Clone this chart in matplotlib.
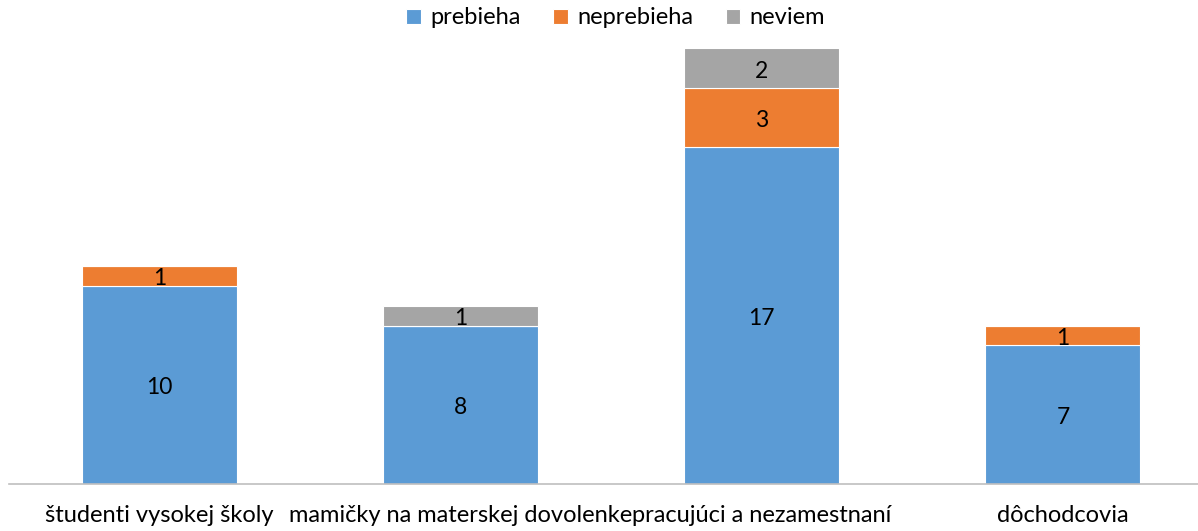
import matplotlib
matplotlib.use("Agg")
import matplotlib.pyplot as plt
import numpy as np

categories = ["študenti vysokej školy", "mamičky na materskej dovolenke",
              "pracujúci a nezamestnaní", "dôchodcovia"]
series_names = ["prebieha", "neprebieha", "neviem"]
prebieha = [10, 8, 17, 7]
neprebieha = [1, 0, 3, 1]
neviem = [0, 1, 2, 0]
colors = ["#5B9BD5", "#ED7D31", "#A5A5A5"]

plt.rcParams['font.family'] = ['Lato', 'DejaVu Sans']

W, H = 1198, 531
fig = plt.figure(figsize=(W / 100, H / 100), dpi=100)
left_px, right_px = 9, 1213.5
top_px, bottom_px = 48.5, 484
ax = fig.add_axes([left_px / W, 1 - bottom_px / H,
                   (right_px - left_px) / W, (bottom_px - top_px) / H])

x = np.arange(len(categories))
bottom = np.zeros(len(categories))
for name, vals, col in zip(series_names, [prebieha, neprebieha, neviem], colors):
    vals = np.array(vals, dtype=float)
    bars = ax.bar(x, vals, width=0.515, bottom=bottom, color=col, label=name,
                  edgecolor="white", linewidth=0.8, zorder=2)
    labels = [str(int(v)) if v > 0 else "" for v in vals]
    ax.bar_label(bars, labels=labels, label_type="center", fontsize=16.5,
                 color="#000000", padding=-2)
    bottom += vals

ax.set_xlim(-0.5, len(categories) - 0.5)
ax.set_ylim(0, 22)
ax.set_yticks([])
ax.set_xticks(x)
ax.set_xticklabels(categories, fontsize=17, color="#000000")
ax.tick_params(axis="x", length=0, pad=15)
for s in ["top", "right", "left"]:
    ax.spines[s].set_visible(False)
ax.spines["bottom"].set_color("#BFBFBF")
ax.spines["bottom"].set_linewidth(1.2)

leg = fig.legend(loc="center", bbox_to_anchor=(0.514, 1 - 18 / H), ncol=3,
                 frameon=False, fontsize=17, handlelength=0.6, handleheight=0.6,
                 handletextpad=0.4, columnspacing=1.4)

fig.savefig("out.png", dpi=100)
